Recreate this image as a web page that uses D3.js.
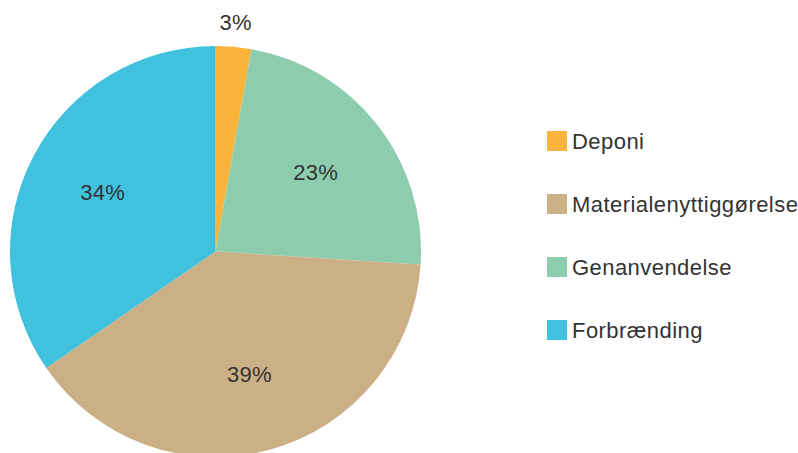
<!DOCTYPE html>
<html>
<head>
<meta charset="utf-8">
<script src="https://cdn.jsdelivr.net/npm/d3@7"></script>
<style>
  body { margin: 0; background: #fff; }
  text { font-family: "Liberation Sans", Arial, sans-serif; fill: #333; }
</style>
</head>
<body>
<script>
// slices in clockwise order from 12 o'clock
const categories = ["Deponi", "Genanvendelse", "Materialenyttiggørelse", "Forbrænding"];
const values = [2.8, 23.2, 39.4, 34.6];
const labels = ["3%", "23%", "39%", "34%"];
const colors = ["#FAB43C", "#8DCDAE", "#CBAF85", "#40C1DE"];

// legend order as in the picture
const legendOrder = ["Deponi", "Materialenyttiggørelse", "Genanvendelse", "Forbrænding"];

const width = 798, height = 453;
const cx = 215.5, cy = 251.5, radius = 205.5;

const svg = d3.select("body").append("svg")
  .attr("width", width)
  .attr("height", height);

const color = d3.scaleOrdinal().domain(categories).range(colors);

const pie = d3.pie().sort(null).value(d => d.value);
const data = pie(categories.map((c, i) => ({name: c, value: values[i], label: labels[i]})));

const arc = d3.arc().innerRadius(0).outerRadius(radius);
const labelArc = d3.arc().innerRadius(radius * 0.62).outerRadius(radius * 0.62);
const outerArc = d3.arc().innerRadius(radius * 1.12).outerRadius(radius * 1.12);

const g = svg.append("g").attr("transform", `translate(${cx},${cy})`);

g.selectAll("path.slice")
  .data(data)
  .join("path")
  .attr("class", "slice")
  .attr("d", arc)
  .attr("fill", d => color(d.data.name));

g.selectAll("text.pct")
  .data(data)
  .join("text")
  .attr("class", "pct")
  .attr("transform", d => {
    const small = (d.endAngle - d.startAngle) < 0.3;
    const p = small ? outerArc.centroid(d) : labelArc.centroid(d);
    return `translate(${p[0]},${p[1]})`;
  })
  .attr("text-anchor", "middle")
  .attr("dy", "0.35em")
  .style("font-size", "22px")
  .style("letter-spacing", "0.3px")
  .text(d => d.data.label);

// legend
const legend = svg.append("g").attr("transform", "translate(547,131)");
const step = 63;

const item = legend.selectAll("g.item")
  .data(legendOrder)
  .join("g")
  .attr("class", "item")
  .attr("transform", (d, i) => `translate(0,${i * step})`);

item.append("rect")
  .attr("width", 20)
  .attr("height", 20)
  .attr("fill", d => color(d));

item.append("text")
  .attr("x", 25)
  .attr("y", 10)
  .attr("dy", "0.35em")
  .style("font-size", "22px")
  .style("letter-spacing", "0.45px")
  .text(d => d);
</script>
</body>
</html>
